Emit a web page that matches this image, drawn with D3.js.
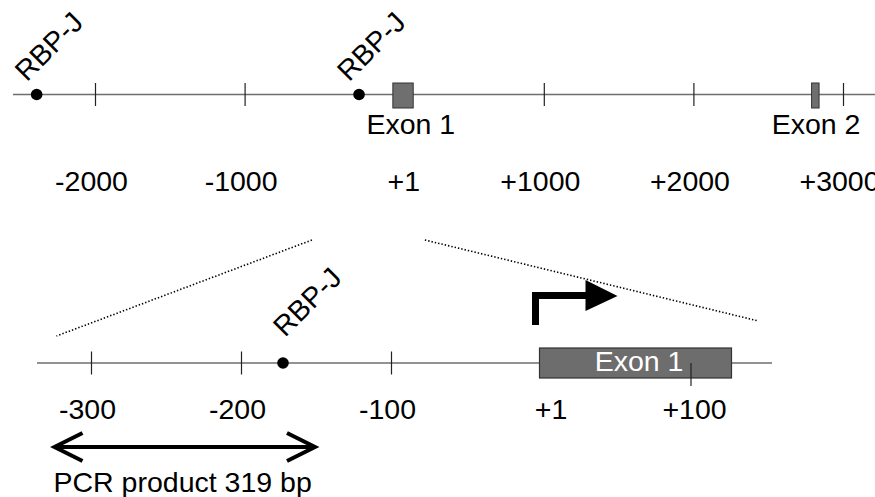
<!DOCTYPE html>
<html>
<head>
<meta charset="utf-8">
<script src="https://cdn.jsdelivr.net/npm/d3@7"></script>
<style>
  html, body { margin: 0; padding: 0; background: #fff; }
  svg { display: block; }
  text { font-family: "Liberation Sans", Arial, sans-serif; }
</style>
</head>
<body>
<svg id="chart" width="875" height="497"></svg>
<script>
// ---- Gene region overview (bp relative to transcription start) ----
const topTickValues = [-2000, -1000, 1000, 2000, 3000];
const topLabelValues = [-2000, -1000, 1, 1000, 2000, 3000];
const topExonNames = ["Exon 1", "Exon 2"];
const topExonStarts = [1, 2800];
const topExonEnds = [127, 2840];
const topSiteNames = ["RBP-J", "RBP-J"];
const topSitePositions = [-2390, -235];

// ---- Promoter close-up ----
const bottomTickValues = [-300, -200, -100, 100];
const bottomLabelValues = [-300, -200, -100, 1, 100];
const bottomExonName = "Exon 1";
const bottomExonStart = 1;
const bottomExonEnd = 127;
const bottomSiteNames = ["RBP-J"];
const bottomSitePositions = [-172];
const tssPosition = 1;
const pcrLabel = "PCR product 319 bp";
const pcrStart = -325;
const pcrEnd = -150;

// Zoom guide: range of the overview that the close-up expands
const zoomFromTop = [-550, 205];
const zoomToBottom = [-323, 145];

const svg = d3.select("#chart");
const FONT = 28.5;
const fmt = d => (d > 0 ? "+" + d : String(d));

const xTop = d3.scaleLinear().domain([-2000, 3000]).range([95, 843]);
const xBot = d3.scaleLinear().domain([-300, 100]).range([91, 691]);

const yTop = 94.5;
const yBot = 363;

// ---------- overview track ----------
const gTop = svg.append("g");
gTop.append("line")
  .attr("x1", 13).attr("x2", 875)
  .attr("y1", yTop).attr("y2", yTop)
  .attr("stroke", "#6e6e6e").attr("stroke-width", 1.5);

const topTickAxis = d3.axisBottom(xTop)
  .tickValues(topTickValues).tickSize(23).tickFormat("");
gTop.append("g").attr("transform", `translate(0,${yTop - 11.5})`)
  .call(topTickAxis)
  .call(g => g.select(".domain").remove())
  .call(g => g.selectAll(".tick line").attr("stroke", "#222").attr("stroke-width", 1.2));

const topLabelAxis = d3.axisBottom(xTop)
  .tickValues(topLabelValues).tickSize(0).tickPadding(0).tickFormat(fmt);
gTop.append("g").attr("transform", `translate(0,${yTop})`)
  .call(topLabelAxis)
  .call(g => g.select(".domain").remove())
  .call(g => g.selectAll(".tick text")
    .attr("y", 0).attr("dy", 96.5)
    .attr("dx", d => (d === 1 ? 9 : -4))
    .attr("fill", "#000")
    .style("font-size", FONT + "px")
    .style("font-family", '"Liberation Sans", Arial, sans-serif'));

const topExons = topExonNames.map((n, i) => ({ name: n, start: topExonStarts[i], end: topExonEnds[i] }));
gTop.selectAll("rect.exon").data(topExons).join("rect")
  .attr("class", "exon")
  .attr("x", d => xTop(d.start) - 1.5)
  .attr("width", d => xTop(d.end) - xTop(d.start) + 1.5)
  .attr("y", yTop - 11.5).attr("height", 25)
  .attr("fill", "#6f6f6f").attr("stroke", "#333").attr("stroke-width", 1);

gTop.selectAll("text.exonlab").data(topExons).join("text")
  .attr("class", "exonlab")
  .attr("x", (d, i) => (xTop(d.start) + xTop(d.end)) / 2 + (i === 0 ? 7 : 0))
  .attr("y", 133.5)
  .attr("text-anchor", "middle")
  .style("font-size", FONT + "px")
  .text(d => d.name);

gTop.selectAll("circle.site").data(topSitePositions).join("circle")
  .attr("class", "site")
  .attr("cx", d => xTop(d)).attr("cy", yTop).attr("r", 5.8)
  .attr("fill", "#000");

gTop.selectAll("text.sitelab").data(topSitePositions).join("text")
  .attr("class", "sitelab")
  .attr("transform", d => `translate(${xTop(d) - 10},${yTop - 12}) rotate(-45)`)
  .style("font-size", FONT + "px")
  .text((d, i) => topSiteNames[i]);

// ---------- zoom guides ----------
const guides = [
  { x1: xTop(zoomFromTop[0]), y1: 240, x2: xBot(zoomToBottom[0]), y2: 336 },
  { x1: xTop(zoomFromTop[1]), y1: 240, x2: xBot(zoomToBottom[1]), y2: 321 }
];
svg.selectAll("line.guide").data(guides).join("line")
  .attr("class", "guide")
  .attr("x1", d => d.x1).attr("y1", d => d.y1)
  .attr("x2", d => d.x2).attr("y2", d => d.y2)
  .attr("stroke", "#000").attr("stroke-width", 1.6)
  .attr("stroke-dasharray", "1.4,2");

// ---------- close-up track ----------
const gBot = svg.append("g");
gBot.append("line")
  .attr("x1", 37).attr("x2", 772)
  .attr("y1", yBot).attr("y2", yBot)
  .attr("stroke", "#6e6e6e").attr("stroke-width", 1.5);

gBot.append("rect")
  .attr("x", xBot(bottomExonStart) - 3)
  .attr("width", xBot(bottomExonEnd) - xBot(bottomExonStart) + 3)
  .attr("y", yBot - 15).attr("height", 30)
  .attr("fill", "#6d6d6d").attr("stroke", "#333").attr("stroke-width", 1.2);

gBot.append("text")
  .attr("x", (xBot(bottomExonStart) + xBot(bottomExonEnd)) / 2 + 2)
  .attr("y", 371)
  .attr("text-anchor", "middle")
  .attr("fill", "#fff")
  .style("font-size", FONT + "px")
  .text(bottomExonName);

const botTickAxis = d3.axisBottom(xBot)
  .tickValues(bottomTickValues).tickSize(23).tickFormat("");
gBot.append("g").attr("transform", `translate(0,${yBot - 11.5})`)
  .call(botTickAxis)
  .call(g => g.select(".domain").remove())
  .call(g => g.selectAll(".tick").filter(d => d > 0).attr("transform", d => `translate(${xBot(d)},11.5)`))
  .call(g => g.selectAll(".tick line").attr("stroke", "#222").attr("stroke-width", 1.2));

const botLabelAxis = d3.axisBottom(xBot)
  .tickValues(bottomLabelValues).tickSize(0).tickPadding(0).tickFormat(fmt);
gBot.append("g").attr("transform", `translate(0,${yBot})`)
  .call(botLabelAxis)
  .call(g => g.select(".domain").remove())
  .call(g => g.selectAll(".tick text")
    .attr("y", 0).attr("dy", 56)
    .attr("dx", d => (d === 1 ? 8 : d === 100 ? 3 : -4))
    .attr("fill", "#000")
    .style("font-size", FONT + "px")
    .style("font-family", '"Liberation Sans", Arial, sans-serif'));

gBot.selectAll("circle.site").data(bottomSitePositions).join("circle")
  .attr("class", "site")
  .attr("cx", d => xBot(d)).attr("cy", yBot).attr("r", 5.8)
  .attr("fill", "#000");

gBot.selectAll("text.sitelab").data(bottomSitePositions).join("text")
  .attr("class", "sitelab")
  .attr("transform", d => `translate(${xBot(d) + 2},${yBot - 25}) rotate(-45)`)
  .style("font-size", FONT + "px")
  .text((d, i) => bottomSiteNames[i]);

// Transcription start: bent arrow
const tx = xBot(tssPosition) - 7;
gBot.append("path")
  .attr("d", `M${tx},325 V295.5 H${tx + 52}`)
  .attr("fill", "none").attr("stroke", "#000").attr("stroke-width", 7)
  .attr("stroke-linejoin", "miter");
gBot.append("path")
  .attr("d", `M${tx + 50},280 L${tx + 82},296 L${tx + 50},311 Z`)
  .attr("fill", "#000");

// PCR product double arrow
const pa = xBot(pcrStart), pb = xBot(pcrEnd), py = 447;
gBot.append("line")
  .attr("x1", pa + 2).attr("x2", pb - 2).attr("y1", py).attr("y2", py)
  .attr("stroke", "#000").attr("stroke-width", 4);
gBot.append("path")
  .attr("d", `M${pa + 29},433 L${pa + 1},${py} L${pa + 29},461 M${pb - 29},433 L${pb - 1},${py} L${pb - 29},461`)
  .attr("fill", "none").attr("stroke", "#000").attr("stroke-width", 4)
  .attr("stroke-linejoin", "miter");

gBot.append("text")
  .attr("x", pa).attr("y", 492)
  .style("font-size", FONT + "px")
  .text(pcrLabel);
</script>
</body>
</html>
